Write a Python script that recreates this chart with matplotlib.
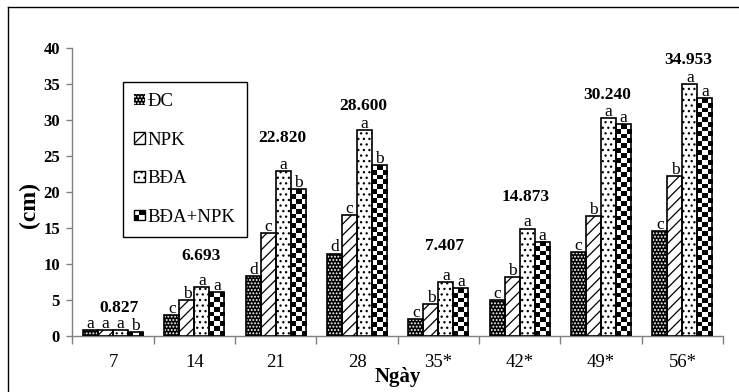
import numpy as np
import matplotlib
matplotlib.use("Agg")
from matplotlib import pyplot as plt
from matplotlib.patches import Rectangle, Patch
from matplotlib.legend_handler import HandlerBase
from matplotlib.lines import Line2D

plt.rcParams['font.family'] = ['Liberation Serif', 'DejaVu Serif']
plt.rcParams['hatch.linewidth'] = 0.9

### Data

days = ['7', '14', '21', '28', '35*', '42*', '49*', '56*']
series = ['ĐC', 'NPK', 'BĐA', 'BĐA+NPK']
dc = [0.85, 2.9, 8.3, 11.4, 2.35, 5.0, 11.6, 14.5]
npk = [0.75, 4.9, 14.2, 16.7, 4.35, 8.1, 16.6, 22.1]
bda = [0.827, 6.693, 22.820, 28.600, 7.407, 14.873, 30.240, 34.953]
bda_npk = [0.55, 6.05, 20.3, 23.7, 6.6, 13.05, 29.4, 33.0]
letters_dc = ['a', 'c', 'd', 'd', 'c', 'c', 'c', 'c']
letters_npk = ['a', 'b', 'c', 'c', 'b', 'b', 'b', 'b']
letters_bda = ['a', 'a', 'a', 'a', 'a', 'a', 'a', 'a']
letters_bda_npk = ['b', 'a', 'b', 'b', 'a', 'a', 'a', 'a']

# gap (points) between the top of the BĐA bar and its bold value
peak_gap = [13, 19.5, 21, 14.5, 23, 19.5, 13.5, 14]

### Figure

fig = plt.figure(figsize=(7.39, 3.92), dpi=100)
ax = fig.add_axes([0.0981, 0.1436, 0.9784 - 0.0981, 0.8788 - 0.1436])

x = np.arange(len(days))
w = 0.1845
offs = [-1.5 * w, -0.5 * w, 0.5 * w, 1.5 * w]

# ĐC: black with white dots
ax.bar(x + offs[0], dc, w, color='black', edgecolor='white', hatch='.....', lw=0, zorder=2)
# NPK: diagonals
ax.bar(x + offs[1], npk, w, color='white', edgecolor='black', hatch='///', lw=0, zorder=2)
# BĐA: fine dots
ax.bar(x + offs[2], bda, w, color='white', edgecolor='black', hatch='...', lw=0, zorder=2)
# BĐA+NPK: checkerboard
ax.bar(x + offs[3], bda_npk, w, color='white', lw=0, zorder=2)
px_per_unit = 288 / 40.0
for i, h in enumerate(bda_npk):
  ny = max(1, int(round(h * px_per_unit / 4.8)))
  board = (np.add.outer(np.arange(ny), np.arange(3)) % 2).astype(float)
  x0 = x[i] + offs[3] - w / 2
  ax.imshow(board, cmap='gray', vmin=0, vmax=1, origin='lower', interpolation='nearest',
            extent=(x0, x0 + w, 0, h), aspect='auto', zorder=2.5)

for vals, off in zip([dc, npk, bda, bda_npk], offs):
  ax.bar(x + off, vals, w, fill=False, edgecolor='black', lw=1.2, zorder=3)

# significance letters
for vals, lets, off in zip([dc, npk, bda, bda_npk],
                           [letters_dc, letters_npk, letters_bda, letters_bda_npk], offs):
  for i, (v, l) in enumerate(zip(vals, lets)):
    ax.annotate(l, (x[i] + off, v), xytext=(0, 1.5), textcoords='offset points',
                ha='center', va='baseline', fontsize=12.5, zorder=4)

# bold BĐA values
for i, v in enumerate(bda):
  ax.annotate('%.3f' % v, (x[i] + offs[2], v), xytext=(-1, peak_gap[i]), textcoords='offset points',
              ha='center', va='baseline', fontsize=12.5, fontweight='bold', zorder=4)

ax.set_xlim(-0.5, len(days) - 0.5)
ax.set_ylim(0, 40)
ax.set_yticks(np.arange(0, 41, 5))
ax.set_xticks(x)
ax.set_xticklabels(days, fontsize=13.5)
ax.set_xticks(np.arange(-0.5, len(days), 1), minor=True)
for lab in ax.get_yticklabels():
  lab.set_fontweight('bold')
  lab.set_fontsize(12)
ax.tick_params(axis='x', which='major', length=0, pad=13)
ax.tick_params(axis='x', which='minor', length=6, color='#808080', width=1)
ax.tick_params(axis='y', length=4, color='#808080', width=1, pad=5)
for s in ['top', 'right']:
  ax.spines[s].set_visible(False)
for s in ['left', 'bottom']:
  ax.spines[s].set_color('#808080')
  ax.spines[s].set_linewidth(1)

ax.set_ylabel('(cm)', fontsize=17, fontweight='bold')
ax.yaxis.set_label_coords(-0.05, 0.454)
ax.set_xlabel('Ngày', fontsize=15, fontweight='bold')
ax.xaxis.label.set_va('center')
ax.xaxis.set_label_coords(0.5, -0.145)

### Legend

class CheckerHandler(HandlerBase):
  def create_artists(self, legend, orig_handle, xdescent, ydescent, width, height, fontsize, trans):
    s = min(width, height)
    x0 = -xdescent + (width - s) / 2
    y0 = -ydescent + (height - s) / 2
    hs = s / 2
    return [Rectangle((x0, y0), s, s, facecolor='white', lw=0, transform=trans),
            Rectangle((x0, y0), hs, hs, facecolor='black', lw=0, transform=trans),
            Rectangle((x0 + hs, y0 + hs), hs, hs, facecolor='black', lw=0, transform=trans),
            Rectangle((x0, y0), s, s, fill=False, edgecolor='black', lw=1, transform=trans)]

handles = [Patch(facecolor='black', edgecolor='white', hatch='.....', lw=0),
           Patch(facecolor='white', edgecolor='black', hatch='///', lw=1),
           Patch(facecolor='white', edgecolor='black', hatch='...', lw=1),
           Patch(facecolor='white', edgecolor='black')]
leg = ax.legend(handles, series, loc='upper left', bbox_to_anchor=(0.0777, 0.881),
                borderaxespad=0, fontsize=13.5, frameon=True, fancybox=False,
                edgecolor='black', framealpha=1, borderpad=0.6, labelspacing=1.15,
                handlelength=0.55, handleheight=0.55, handletextpad=0.15,
                handler_map={handles[3]: CheckerHandler()})
leg.get_frame().set_linewidth(1)

# outer frame of the picture (left and top edges visible)
fig.add_artist(Line2D([8 / 739, 8 / 739], [0, 1 - 7 / 392], transform=fig.transFigure, color='black', lw=1))
fig.add_artist(Line2D([8 / 739, 1], [1 - 7 / 392, 1 - 7 / 392], transform=fig.transFigure, color='black', lw=1))

fig.savefig('out.png', dpi=100)
